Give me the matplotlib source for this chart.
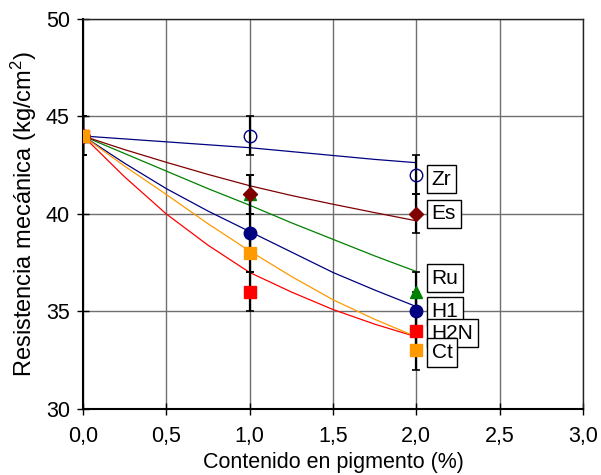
import matplotlib
matplotlib.use("Agg")
import matplotlib.pyplot as plt
from matplotlib.ticker import FuncFormatter, MultipleLocator

plt.rcParams["font.family"] = ["Liberation Sans", "DejaVu Sans"]
plt.rcParams["mathtext.default"] = "regular"

# ensayos: contenido de pigmento (%) y resistencia media (kg/cm2)
pigmento = [0, 1, 2]
zr = [44, 44, 42]
es = [44, 41, 40]
ru = [44, 41, 36]
h1 = [44, 39, 35]
h2n = [44, 36, 34]
ct = [44, 38, 33]
error = [1, 1, 1]

# líneas de tendencia
x_tend = [0, 0.25, 0.5, 0.75, 1.0, 1.25, 1.5, 1.75, 2.0]
zr_tend = [44, 43.85, 43.7, 43.55, 43.4, 43.2, 43.0, 42.8, 42.63]
es_tend = [44, 43.3, 42.65, 42.03, 41.45, 40.95, 40.5, 40.07, 39.65]
ru_tend = [44, 43.1, 42.2, 41.3, 40.45, 39.55, 38.7, 37.85, 37.05]
h1_tend = [44, 42.6, 41.3, 40.15, 39.1, 38.05, 37.0, 36.1, 35.25]
h2n_tend = [44, 41.9, 40.0, 38.4, 37.0, 36.0, 35.1, 34.35, 33.7]
ct_tend = [44, 42.45, 41.0, 39.5, 38.1, 36.8, 35.6, 34.6, 33.7]

series = [
    # nombre, datos, tendencia, color, marcador, relleno, desplazamiento etiqueta (pt)
    ("Zr", zr, zr_tend, "#000080", "o", "none", -3),
    ("Ru", ru, ru_tend, "#008000", "^", "#008000", 10),
    ("Es", es, es_tend, "#800000", "D", "#800000", 0),
    ("H1", h1, h1_tend, "#000080", "o", "#000080", 0),
    ("H2N", h2n, h2n_tend, "#FF0000", "s", "#FF0000", -1.5),
    ("Ct", ct, ct_tend, "#FF9900", "s", "#FF9900", -1.5),
]

fig = plt.figure(figsize=(6.01, 4.75), dpi=100)
ax = fig.add_axes([0.1381, 0.139, 0.832, 0.821])

for i, (nombre, datos, tend, color, mk, fc, dy) in enumerate(series):
    ax.plot(x_tend, tend, color=color, lw=0.9, zorder=3)
    ax.errorbar(pigmento, datos, yerr=error, fmt="none", ecolor="black",
                elinewidth=1.6, capsize=3, capthick=1.2, zorder=4)
    ms = 9 if mk != "D" else 7.5
    ax.plot(pigmento, datos, linestyle="none", marker=mk, ms=ms,
            mfc=fc, mec=color, mew=1.0, zorder=5 + i)
    ax.annotate(nombre, (pigmento[-1], datos[-1]), xytext=(11, dy),
                textcoords="offset points", ha="left", va="center",
                fontsize=15, zorder=20,
                bbox=dict(boxstyle="square,pad=0.22", fc="white",
                          ec="black", lw=1.0))

ax.set_xlim(0, 3)
ax.set_ylim(30, 50)
ax.xaxis.set_major_locator(MultipleLocator(0.5))
ax.yaxis.set_major_locator(MultipleLocator(5))
ax.xaxis.set_major_formatter(FuncFormatter(lambda v, p: f"{v:.1f}".replace(".", ",")))
ax.yaxis.set_major_formatter(FuncFormatter(lambda v, p: f"{v:.0f}"))
ax.grid(True, color="#707070", lw=1.0, zorder=0)
ax.set_axisbelow(True)

for lado in ("top", "right"):
    ax.spines[lado].set_color("#222222")
    ax.spines[lado].set_linewidth(1.0)
ax.spines["left"].set_linewidth(1.5)
ax.spines["bottom"].set_linewidth(1.5)
ax.tick_params(direction="inout", length=9, width=1.0, labelsize=15.5,
               colors="black", pad=5)
ax.tick_params(axis="x", pad=8)

ax.set_xlabel("Contenido en pigmento (%)", fontsize=15.5, labelpad=3)
ax.set_ylabel("Resistencia mecánica (kg/cm$^2$)", fontsize=17, labelpad=5)

fig.savefig("out.png", dpi=100)
